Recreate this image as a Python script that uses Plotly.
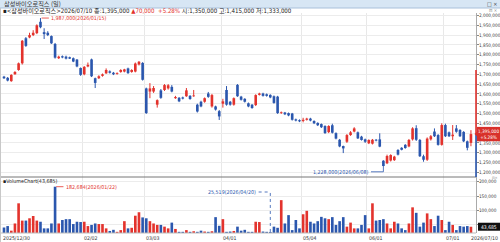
import plotly.graph_objects as go

W, H = 500, 242

stock_name = "삼성바이오로직스"
last_date = "2026/07/10"

# OHLC in thousand KRW
open_k = [1688,1682,1665,1700,1722,1756,1884,1888,1900,1910,
          1968,1915,1912,1895,1855,1782,1792,1790,1787,1782,
          1775,1732,1700,1740,1776,1680,1680,1692,1705,1715,
          1708,1702,1712,1714,1730,1712,1714,1750,1758,1628,
          1612,1612,1545,1618,1620,1628,1636,1578,1580,1582,
          1588,1590,1588,1545,1560,1560,1602,1536,1536,1512,
          1550,1620,1560,1545,1646,1586,1575,1552,1545,1543,
          1595,1602,1598,1595,1588,1586,1502,1505,1502,1500,
          1470,1466,1462,1468,1474,1462,1452,1446,1436,1405,
          1440,1400,1366,1334,1356,1390,1408,1404,1382,1368,
          1348,1346,1366,1368,1259,1246,1260,1262,1314,1325,
          1340,1332,1368,1425,1365,1282,1264,1368,1408,1390,
          1340,1441,1404,1384,1424,1416,1406,1358,1350]
high_k = [1692,1686,1700,1716,1760,1875,1890,1912,1925,1955,
          1987,1935,1920,1898,1860,1795,1796,1795,1790,1786,
          1778,1735,1742,1760,1780,1683,1695,1704,1730,1720,
          1712,1710,1726,1728,1734,1726,1760,1768,1762,1632,
          1655,1640,1572,1625,1650,1650,1645,1590,1584,1586,
          1630,1594,1620,1550,1565,1582,1610,1600,1540,1518,
          1575,1640,1564,1582,1650,1590,1578,1556,1548,1598,
          1606,1606,1602,1598,1592,1590,1510,1508,1505,1503,
          1474,1470,1478,1478,1478,1465,1455,1449,1440,1440,
          1448,1404,1370,1336,1395,1410,1430,1408,1386,1372,
          1368,1370,1370,1399,1262,1290,1292,1284,1318,1328,
          1344,1370,1430,1440,1370,1290,1378,1390,1424,1395,
          1450,1448,1408,1441,1441,1420,1410,1362,1415]
low_k = [1676,1664,1662,1698,1718,1750,1840,1884,1895,1905,
         1935,1880,1895,1855,1780,1778,1782,1776,1778,1762,
         1736,1692,1695,1736,1686,1630,1676,1688,1702,1704,
         1696,1698,1708,1710,1702,1708,1710,1745,1668,1498,
         1578,1605,1530,1575,1615,1622,1608,1575,1558,1572,
         1585,1570,1585,1505,1532,1555,1580,1530,1515,1467,
         1530,1540,1540,1540,1585,1566,1556,1532,1524,1538,
         1592,1586,1586,1578,1550,1498,1498,1492,1486,1464,
         1460,1456,1455,1464,1460,1446,1436,1426,1396,1400,
         1398,1368,1328,1298,1350,1386,1404,1370,1362,1350,
         1344,1342,1358,1328,1228,1242,1255,1258,1286,1312,
         1320,1328,1362,1360,1278,1254,1258,1362,1380,1336,
         1336,1380,1380,1365,1402,1380,1354,1312,1333]
close_k = [1680,1668,1697,1712,1756,1871,1845,1900,1912,1950,
           1940,1905,1900,1858,1785,1790,1786,1780,1780,1765,
           1740,1697,1738,1748,1690,1656,1690,1700,1722,1708,
           1700,1706,1722,1725,1706,1722,1755,1764,1672,1502,
           1628,1630,1568,1580,1645,1644,1612,1584,1562,1576,
           1618,1574,1592,1510,1536,1578,1585,1594,1520,1485,
           1562,1545,1545,1578,1588,1570,1560,1536,1528,1594,
           1602,1590,1590,1582,1554,1502,1506,1496,1490,1468,
           1464,1460,1468,1474,1464,1450,1440,1430,1400,1436,
           1402,1372,1332,1322,1390,1404,1424,1373,1365,1356,
           1365,1366,1362,1331,1232,1283,1288,1280,1290,1315,
           1324,1365,1424,1366,1282,1264,1372,1384,1384,1340,
           1441,1384,1384,1392,1407,1384,1358,1325,1395]
# volume in thousand shares
volume_k = [41,46,30,55,125,65,65,73,81,65,
            61,38,38,55,182.684,55,67,70,70,53,
            61,60,61,46,50,55,53,53,38,29,
            33,26,32,63,38,40,82,94,76,73,
            63,55,50,50,44,38,58,36,26,26,
            32,26,28,26,30,27,26,28,77,47,
            70,26,27,29,44,30,33,26,26,61,
            60,27,26,25.519,44,40,136,55,84,32,
            67,38,87,99,61,55,63,78,73,70,
            77,50,63,77,44,58,38,38,50,84,
            38,125,65,67,70,55,38,61,55,38,
            32,55,111,92,44,58,90,70,46,82,
            67,32,61,50,32,46,44,46,43.685]

date_labels = ["2025/12/30", "02/02", "03/03", "04/01", "05/04", "06/01", "07/01", "2026/07/10"]
date_label_idx = [0, 22, 39, 60, 82, 100, 121, 128]
peak_date = "2026/01/15"
low_date = "2026/06/08"
vmax_date = "2026/01/22"
vmin_date = "2026/04/20"
price_ticks = [1200000, 1250000, 1300000, 1350000, 1400000, 1450000, 1500000, 1550000,
               1600000, 1650000, 1700000, 1750000, 1800000, 1850000, 1900000, 1950000, 2000000]
volume_ticks = [50000, 100000, 150000, 200000]

RED = "#e3332d"
BLUE = "#2b57ae"
TXT = "#333333"
FONT = "DejaVu Sans Condensed, Noto Sans CJK KR, sans-serif"
KFONT = "Noto Sans CJK KR, DejaVu Sans Condensed, sans-serif"

O = [v * 1000 for v in open_k]
Hh = [v * 1000 for v in high_k]
L = [v * 1000 for v in low_k]
C = [v * 1000 for v in close_k]
V = [round(v * 1000) for v in volume_k]
n = len(C)
idx = list(range(n))
up = [c >= o for o, c in zip(O, C)]
colors = [RED if u else BLUE for u in up]

# pixel geometry
PLOT_R = 476
X0 = -4 / 3.648
X1 = (PLOT_R - 4) / 3.648
P_TOP_PX, P_BOT_PX = 13, 177
V_TOP_PX, V_BOT_PX = 177, 233
PX_PER_50K = 9.8
def price_at(ypx):
    return 2000000 - (ypx - 15.5) / PX_PER_50K * 50000
P0, P1 = price_at(P_BOT_PX), price_at(P_TOP_PX)
def vol_at(ypx):
    return (182.684 - (ypx - 186.7) / 0.288) * 1000
VR0, VR1 = vol_at(V_BOT_PX), vol_at(V_TOP_PX)

def ax(x):
    return x / W
def ay(y):
    return 1 - y / H

# boxes marking the current price / volume on the right axis (they hide the labels behind them)
half = 7.2 / PX_PER_50K * 50000
vh = 4 / 0.288 * 1000
price_text = [f"{t:,}" if abs(t - C[-1]) > half else "" for t in price_ticks]
vol_text = [f"{t:,}" if abs(t - V[-1]) > vh * 1.2 else "" for t in volume_ticks]

fig = go.Figure()

# wicks
for flag, col in ((True, RED), (False, BLUE)):
    xs, ys = [], []
    for i in idx:
        if up[i] == flag:
            xs += [i, i, None]
            ys += [L[i], Hh[i], None]
    fig.add_trace(go.Scatter(x=xs, y=ys, mode="lines", line=dict(color=col, width=1),
                             hoverinfo="skip", showlegend=False, xaxis="x", yaxis="y"))
# bodies
fig.add_trace(go.Bar(x=idx, y=[max(abs(c - o), 3000) for o, c in zip(O, C)],
                     base=[min(o, c) for o, c in zip(O, C)], width=0.72,
                     marker=dict(color=colors, line=dict(width=0)),
                     showlegend=False, hoverinfo="skip", xaxis="x", yaxis="y"))
# volume
fig.add_trace(go.Bar(x=idx, y=V, width=0.72, marker=dict(color=colors, line=dict(width=0)),
                     showlegend=False, hoverinfo="skip", xaxis="x2", yaxis="y2"))

grid_x = [i - 0.5 for i in date_label_idx[1:-1]]
common_x = dict(domain=[0, PLOT_R / W], range=[X0, X1], tickvals=grid_x, showticklabels=False,
                showgrid=True, gridcolor="#e8e8e8", gridwidth=1, zeroline=False, showline=False,
                ticks="", fixedrange=True)
tickfont = dict(family=FONT, size=4.7, color="#444")
yax_common = dict(side="right", ticks="outside", ticklen=2, tickcolor="#888",
                  tickfont=tickfont, showgrid=True, gridcolor="#ececec", zeroline=False,
                  showline=True, linecolor="#aaaaaa", linewidth=1, automargin=False,
                  fixedrange=True, ticklabelstandoff=-1)
fig.update_layout(
    width=W, height=H, margin=dict(l=0, r=0, t=0, b=0),
    paper_bgcolor="white", plot_bgcolor="white", barmode="overlay",
    showlegend=False, hovermode=False,
    xaxis=dict(anchor="y", **common_x),
    xaxis2=dict(anchor="y2", matches="x", **common_x),
    yaxis=dict(domain=[ay(P_BOT_PX), ay(P_TOP_PX)], range=[P0, P1], anchor="x",
               tickvals=price_ticks, ticktext=price_text, **yax_common),
    yaxis2=dict(domain=[ay(V_BOT_PX), ay(V_TOP_PX)], range=[VR0, VR1], anchor="x2",
                tickvals=volume_ticks, ticktext=vol_text, **yax_common),
)

shapes = []
ann = []
# title bar
shapes.append(dict(type="rect", xref="paper", yref="paper", x0=0, x1=1, y0=ay(8), y1=1,
                   fillcolor="#d7e6f4", line=dict(width=0), layer="below"))
shapes.append(dict(type="line", xref="paper", yref="paper", x0=0, x1=1, y0=ay(8), y1=ay(8),
                   line=dict(color="#a8c0da", width=1)))
ann.append(dict(xref="paper", yref="paper", x=ax(2), y=ay(4), xanchor="left", yanchor="middle",
                text=stock_name + " (일)", showarrow=False, font=dict(family=KFONT, size=6.2, color="#333")))
ann.append(dict(xref="paper", yref="paper", x=ax(499), y=ay(4), xanchor="right", yanchor="middle",
                text="□ ×", showarrow=False, font=dict(family=FONT, size=5.5, color="#333")))
ann.append(dict(xref="paper", yref="paper", x=ax(499), y=ay(10.5), xanchor="right", yanchor="middle",
                text="⊟ ×", showarrow=False, font=dict(family=FONT, size=4.5, color="#888")))
ann.append(dict(xref="paper", yref="paper", x=ax(500), y=ay(177.6), xanchor="right", yanchor="middle",
                text="⊟×", showarrow=False, font=dict(family=FONT, size=3.6, color="#888")))

# info line
chg = C[-1] - C[-2]
pct = chg / C[-2] * 100
info = ("▪&lt;%s&gt;%s 종:%s <span style='color:%s'>▲%s  +%.2f%%</span> 시:%s 고:%s 저:%s"
        % (stock_name, last_date, f"{C[-1]:,}", RED, f"{chg:,}", pct,
           f"{O[-1]:,}", f"{Hh[-1]:,}", f"{L[-1]:,}"))
ann.append(dict(xref="paper", yref="paper", x=ax(1), y=ay(10.5), xanchor="left", yanchor="middle",
                text=info, showarrow=False, font=dict(family=FONT, size=6.1, color="#222")))

# panel separators / borders
shapes.append(dict(type="line", xref="paper", yref="paper", x0=0, x1=ax(PLOT_R), y0=ay(177), y1=ay(177),
                   line=dict(color="#777", width=1)))
shapes.append(dict(type="line", xref="paper", yref="paper", x0=0, x1=ax(PLOT_R), y0=ay(233), y1=ay(233),
                   line=dict(color="#bbb", width=1)))
shapes.append(dict(type="line", xref="paper", yref="paper", x0=ax(0.5), x1=ax(0.5), y0=0, y1=ay(8),
                   line=dict(color="#c8c8c8", width=1)))

# right axis colored range (upper limit .. current .. lower)
upper_limit = C[-2] * 1.3
shapes.append(dict(type="line", xref="paper", yref="y", x0=ax(PLOT_R), x1=ax(PLOT_R), y0=C[-1], y1=upper_limit,
                   line=dict(color=RED, width=1.6)))
shapes.append(dict(type="line", xref="paper", yref="y", x0=ax(PLOT_R), x1=ax(PLOT_R), y0=P0, y1=C[-1],
                   line=dict(color=BLUE, width=1.6)))
# current price box
shapes.append(dict(type="rect", xref="paper", yref="y", x0=ax(477), x1=1, y0=C[-1] - half, y1=C[-1] + half,
                   fillcolor="#d8302a", line=dict(width=0)))
shapes.append(dict(type="path", xref="paper", yref="paper",
                   path="M %f,%f L %f,%f L %f,%f Z" % (ax(474.5), ay(134.1), ax(477.2), ay(131.6),
                                                       ax(477.2), ay(136.6)),
                   fillcolor="#d8302a", line=dict(width=0)))
ann.append(dict(xref="paper", yref="y", x=ax(488.5), y=C[-1], xanchor="center", yanchor="middle",
                text=f"{C[-1]:,}<br>+{pct:.2f}%", showarrow=False,
                font=dict(family=FONT, size=4.6, color="white")))
# current volume box
shapes.append(dict(type="rect", xref="paper", yref="y2", x0=ax(478), x1=1, y0=V[-1] - vh, y1=V[-1] + vh,
                   fillcolor="#111", line=dict(width=0)))
ann.append(dict(xref="paper", yref="y2", x=ax(489), y=V[-1], xanchor="center", yanchor="middle",
                text=f"{V[-1]:,}", showarrow=False, font=dict(family=FONT, size=5, color="white")))

# volume panel title
ann.append(dict(xref="paper", yref="paper", x=ax(1), y=ay(180.5), xanchor="left", yanchor="middle",
                text=f"▪VolumeChart({V[-1]:,})", showarrow=False, font=dict(family=FONT, size=5.3, color="#222")))

# peak marker
ip = max(idx, key=lambda i: Hh[i])
shapes.append(dict(type="line", xref="x", yref="y", x0=ip + 0.3, x1=ip + 2.3, y0=Hh[ip], y1=Hh[ip],
                   line=dict(color=RED, width=0.8)))
ann.append(dict(xref="x", yref="y", x=ip + 2.4, y=Hh[ip], xanchor="left", yanchor="middle",
                text=f"{Hh[ip]:,}({peak_date})", showarrow=False, font=dict(family=FONT, size=5.3, color=RED)))
# low marker
il = min(idx, key=lambda i: L[i])
shapes.append(dict(type="line", xref="x", yref="y", x0=il - 3.4, x1=il, ysizemode="pixel", yanchor=L[il],
                   y0=-5, y1=-5, line=dict(color=BLUE, width=0.8)))
shapes.append(dict(type="line", xref="x", yref="y", x0=il, x1=il, ysizemode="pixel", yanchor=L[il],
                   y0=-5, y1=0, line=dict(color=BLUE, width=0.8)))
ann.append(dict(xref="x", yref="y", x=il - 3.5, y=L[il], yshift=-5, xanchor="right", yanchor="middle",
                text=f"{L[il]:,}({low_date})", showarrow=False, font=dict(family=FONT, size=5.3, color=BLUE)))
# volume max marker
ivx = max(idx, key=lambda i: V[i])
shapes.append(dict(type="line", xref="x2", yref="y2", x0=ivx + 0.3, x1=ivx + 2.3, y0=V[ivx], y1=V[ivx],
                   line=dict(color=RED, width=0.8)))
ann.append(dict(xref="x2", yref="y2", x=ivx + 2.4, y=V[ivx], xanchor="left", yanchor="middle",
                text=f"{V[ivx]:,}({vmax_date})", showarrow=False, font=dict(family=FONT, size=5.3, color=RED)))
# volume min marker
ivn = min(idx, key=lambda i: V[i])
ymark = vol_at(192)
shapes.append(dict(type="line", xref="x2", yref="y2", x0=ivn - 3.2, x1=ivn, y0=ymark, y1=ymark,
                   line=dict(color=BLUE, width=0.8, dash="dot")))
shapes.append(dict(type="line", xref="x2", yref="y2", x0=ivn, x1=ivn, y0=V[ivn], y1=ymark,
                   line=dict(color=BLUE, width=0.8, dash="dot")))
ann.append(dict(xref="x2", yref="y2", x=ivn - 3.3, y=ymark, xanchor="right", yanchor="middle",
                text=f"{V[ivn]:,}({vmin_date})", showarrow=False, font=dict(family=FONT, size=5.3, color=BLUE)))

# date labels
for k, (lab, i) in enumerate(zip(date_labels, date_label_idx)):
    if k == 0:
        ann.append(dict(xref="paper", yref="paper", x=ax(1), y=ay(238), xanchor="left", yanchor="middle",
                        text=lab, showarrow=False, font=dict(family=FONT, size=5.2, color=TXT)))
    elif k == len(date_labels) - 1:
        ann.append(dict(xref="paper", yref="paper", x=1, y=ay(238), xanchor="right", yanchor="middle",
                        text=lab, showarrow=False, font=dict(family=FONT, size=5.2, color=TXT)))
    else:
        ann.append(dict(xref="x2", yref="paper", x=i - 0.5, y=ay(238), xanchor="left", yanchor="middle",
                        text=lab, showarrow=False, font=dict(family=FONT, size=5.2, color=TXT)))

fig.update_layout(shapes=shapes, annotations=ann)
fig.write_html("out.html", config={"displayModeBar": False, "staticPlot": True})
